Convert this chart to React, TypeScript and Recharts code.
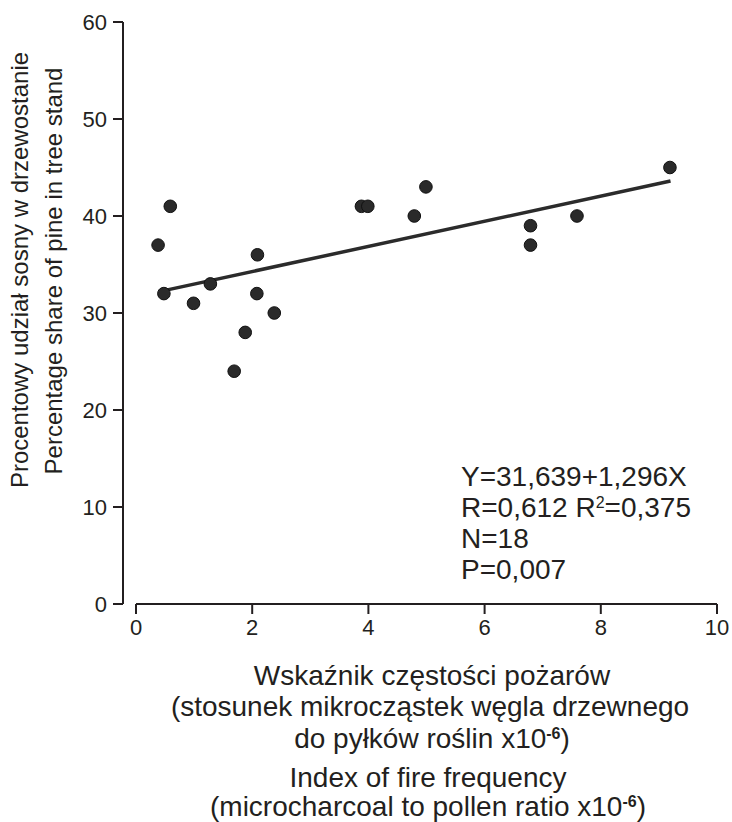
import { ReferenceLine, Scatter, ScatterChart, XAxis, YAxis } from "recharts";

// fire frequency index (x10^-6) vs. pine share in stand (%)
const fireIndex = [0.38, 0.59, 0.48, 0.99, 1.28, 2.09, 2.08, 2.38, 1.88, 1.69, 3.88, 3.99, 4.79, 4.99, 6.79, 6.79, 7.59, 9.19];
const pineShare = [37, 41, 32, 31, 33, 36, 32, 30, 28, 24, 41, 41, 40, 43, 39, 37, 40, 45];

// regression line ends
const fitX = [0.4, 9.2];
const fitY = [32.2, 43.6];

const xTicks = [0, 2, 4, 6, 8, 10];
const yTicks = [0, 10, 20, 30, 40, 50, 60];

const stats = ["Y=31,639+1,296X", "R=0,612 R", "N=18", "P=0,007"];

const points = fireIndex.map((x, i) => ({ x, y: pineShare[i] }));

const FONT = '"Liberation Sans", Arial, Helvetica, sans-serif';
const INK = "#231f20";

const Dot = (p: any) => (
  <circle cx={p.cx} cy={p.cy} r={6.3} fill="#2a2a2a" stroke="#111" strokeWidth={1} />
);

export default function App() {
  return (
    <div style={{ position: "absolute", left: 0, top: 0, width: 732, height: 822, background: "#fff", fontFamily: FONT }}>
      <ScatterChart width={732} height={822} margin={{ top: 22, right: 15, bottom: 178, left: 63 }}>
        <XAxis
          type="number"
          dataKey="x"
          domain={[0, 10]}
          ticks={xTicks}
          padding={{ left: 13, right: 0 }}
          axisLine={false}
          tickSize={10}
          tickMargin={5}
          tickLine={{ stroke: INK, strokeWidth: 2 }}
          tick={{ fill: INK, fontSize: 22, fontFamily: FONT }}
          height={40}
          interval={0}
        />
        <YAxis
          type="number"
          dataKey="y"
          domain={[0, 60]}
          ticks={yTicks}
          width={60}
          tickSize={10}
          tickMargin={6}
          axisLine={{ stroke: INK, strokeWidth: 2 }}
          tickLine={{ stroke: INK, strokeWidth: 2 }}
          tick={{ fill: INK, fontSize: 22, fontFamily: FONT }}
          interval={0}
        />
        <ReferenceLine
          segment={[{ x: 0, y: 0 }, { x: 10, y: 0 }]}
          stroke={INK}
          strokeWidth={2}
          ifOverflow="visible"
        />
        <ReferenceLine
          segment={[{ x: fitX[0], y: fitY[0] }, { x: fitX[1], y: fitY[1] }]}
          stroke="#2b2b2b"
          strokeWidth={3.5}
        />
        <Scatter data={points} shape={Dot} isAnimationActive={false} />
      </ScatterChart>

      <svg width={732} height={822} style={{ position: "absolute", left: 0, top: 0, pointerEvents: "none" }}>
        <g fill={INK} fontFamily={FONT}>
          <g fontSize={24} textAnchor="middle">
            <text x={28} y={270} transform="rotate(-90 28 270)">Procentowy udział sosny w drzewostanie</text>
            <text x={62} y={271} transform="rotate(-90 62 271)">Percentage share of pine in tree stand</text>
          </g>
          <g fontSize={28} textAnchor="middle">
            <text x={432} y={685}>Wskaźnik częstości pożarów</text>
            <text x={430} y={716}>(stosunek mikrocząstek węgla drzewnego</text>
            <text x={432} y={748}>
              do pyłków roślin x10
              <tspan dy={-9} fontSize={16} fontWeight="bold">-6</tspan>
              <tspan dy={9}>)</tspan>
            </text>
            <text x={428} y={787}>Index of fire frequency</text>
            <text x={428} y={816}>
              (microcharcoal to pollen ratio x10
              <tspan dy={-9} fontSize={16} fontWeight="bold">-6</tspan>
              <tspan dy={9}>)</tspan>
            </text>
          </g>
          <g fontSize={28}>
            <text x={461} y={486}>{stats[0]}</text>
            <text x={461} y={517}>
              {stats[1]}
              <tspan dy={-9} fontSize={16}>2</tspan>
              <tspan dy={9}>=0,375</tspan>
            </text>
            <text x={461} y={548}>{stats[2]}</text>
            <text x={461} y={579}>{stats[3]}</text>
          </g>
        </g>
      </svg>
    </div>
  );
}
